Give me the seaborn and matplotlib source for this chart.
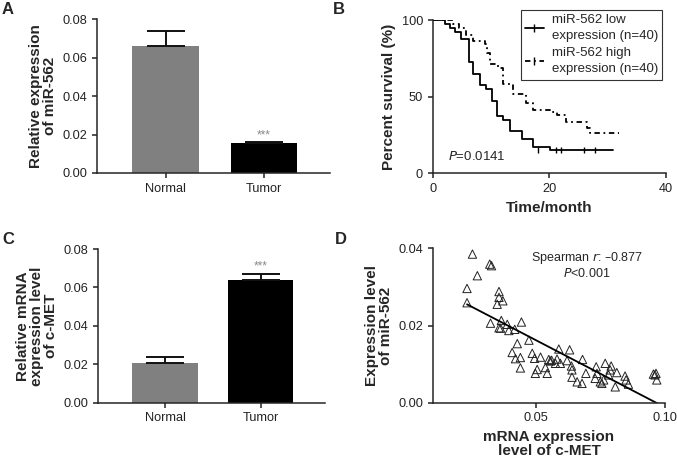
import numpy as np
import pandas as pd
import matplotlib
matplotlib.use('Agg')
import matplotlib.pyplot as plt
from matplotlib.lines import Line2D
import seaborn as sns

# Panel A: miR-562 expression
groups = ['Normal', 'Tumor']
mir_mean = [0.066, 0.0154]
mir_sem = [0.0079, 0.0009]

# Panel C: c-MET mRNA expression
met_mean = [0.0208, 0.0639]
met_sem = [0.0028, 0.0029]

# Panel B: Kaplan-Meier steps
low_time = [0, 2.05, 2.9, 3.8, 4.9, 6.2, 7.0, 8.1, 9.2, 10.1, 11.0, 12.1, 13.3, 15.3, 17.2, 20.1, 30.9]
low_surv = [100, 97.5, 95, 92.5, 87.5, 72.5, 65, 57.5, 55, 47.5, 37.5, 35, 27.5, 22.5, 17.5, 15, 15]
low_censor = [18.1, 21.1, 22.1, 25.9, 27.8]
high_time = [0, 3.5, 4.6, 5.8, 6.9, 8.9, 9.4, 9.9, 11.2, 12.1, 13.8, 16.0, 17.2, 20.1, 21.3, 22.9, 26.4, 27.0, 32.0]
high_surv = [100, 97.5, 95, 90, 86.5, 84.5, 78.5, 71.5, 69, 58.5, 52, 46, 41.5, 40, 38, 33.5, 29.5, 26.5, 26.5]

# Panel D: scatter of c-MET vs miR-562
met_x = [0.0253, 0.0320, 0.0327, 0.0272, 0.0232, 0.0232, 0.0356, 0.0356, 0.0371, 0.0349,
         0.0323, 0.0365, 0.0356, 0.0362, 0.0388, 0.0394, 0.0417, 0.0443, 0.0427, 0.0472,
         0.0407, 0.0420, 0.0439, 0.0439, 0.0485, 0.0494, 0.0504, 0.0497, 0.0517, 0.0536,
         0.0543, 0.0549, 0.0555, 0.0560, 0.0588, 0.0581, 0.0594, 0.0575, 0.0620, 0.0630,
         0.0637, 0.0639, 0.0639, 0.0659, 0.0678, 0.0680, 0.0693, 0.0729, 0.0733, 0.0736,
         0.0749, 0.0755, 0.0762, 0.0768, 0.0781, 0.0787, 0.0791, 0.0807, 0.0813, 0.0845,
         0.0849, 0.0858, 0.0955, 0.0961, 0.0968, 0.0965]
mir_y = [0.0385, 0.0359, 0.0355, 0.0329, 0.0296, 0.0259, 0.0288, 0.0273, 0.0264, 0.0255,
         0.0206, 0.0213, 0.0194, 0.0193, 0.0203, 0.0187, 0.0190, 0.0209, 0.0153, 0.0162,
         0.0130, 0.0114, 0.0117, 0.0090, 0.0128, 0.0115, 0.0086, 0.0076, 0.0118, 0.0091,
         0.0076, 0.0112, 0.0108, 0.0110, 0.0139, 0.0113, 0.0102, 0.0102, 0.0109, 0.0137,
         0.0095, 0.0085, 0.0066, 0.0054, 0.0050, 0.0112, 0.0076, 0.0063, 0.0093, 0.0076,
         0.0054, 0.0050, 0.0059, 0.0102, 0.0072, 0.0085, 0.0095, 0.0041, 0.0078, 0.0069,
         0.0059, 0.0048, 0.0074, 0.0072, 0.0059, 0.0076]

sns.set_style('ticks')
plt.rcParams['font.family'] = ['Liberation Sans', 'DejaVu Sans']
plt.rcParams['axes.linewidth'] = 1.1
plt.rcParams['xtick.major.width'] = 1.1
plt.rcParams['ytick.major.width'] = 1.1
plt.rcParams['xtick.major.size'] = 3.5
plt.rcParams['ytick.major.size'] = 3.5
plt.rcParams['xtick.labelsize'] = 9.2
plt.rcParams['ytick.labelsize'] = 9.2
plt.rcParams['xtick.color'] = '#222222'
plt.rcParams['ytick.color'] = '#222222'

fig = plt.figure(figsize=(6.77, 4.65), dpi=100)
axA = fig.add_axes([0.1433, 0.628, 0.344, 0.331])
axB = fig.add_axes([0.639, 0.627, 0.3446, 0.3297])
axC = fig.add_axes([0.1448, 0.134, 0.335, 0.3305])
axD = fig.add_axes([0.6396, 0.134, 0.3427, 0.332])

bar_colors = ['#808080', '#000000']
lab_font = dict(fontsize=11, fontweight='bold')


def bar_panel(ax, means, sems, star_y, ylabel):
    df = pd.DataFrame({'group': groups, 'value': means})
    sns.barplot(data=df, x='group', y='value', hue='group', palette=bar_colors,
                width=0.68, errorbar=None, legend=False, ax=ax, linewidth=0)
    ax.errorbar([0, 1], means, yerr=[[0, 0], sems], fmt='none', ecolor='#111111',
                elinewidth=1.4, capsize=14, capthick=1.4)
    ax.text(1, star_y, '***', ha='center', va='center', fontsize=8.5, color='#8a8a8a')
    ax.set_ylim(0, 0.08)
    ax.set_yticks([0, 0.02, 0.04, 0.06, 0.08])
    ax.set_yticklabels(['0.00', '0.02', '0.04', '0.06', '0.08'])
    ax.set_xlim(-0.7, 1.67)
    ax.set_xlabel('')
    ax.set_ylabel(ylabel, linespacing=1.0, **lab_font)
    sns.despine(ax=ax)


bar_panel(axA, mir_mean, mir_sem, 0.0197, 'Relative expression\nof miR-562')
bar_panel(axC, met_mean, met_sem, 0.0708, 'Relative mRNA\nexpression level\nof c-MET')

# Panel B
dash_style = (0, (3, 2, 1, 2))
sns.lineplot(x=low_time, y=low_surv, drawstyle='steps-post', color='black', lw=1.3, ax=axB)
sns.lineplot(x=high_time, y=high_surv, drawstyle='steps-post', color='black', lw=1.3,
             linestyle=dash_style, ax=axB)
axB.scatter(low_censor, [low_surv[-1]] * len(low_censor), marker='|', color='black', s=25, lw=1)
axB.set_xlim(0, 40)
axB.set_ylim(0, 100)
axB.set_xticks([0, 20, 40])
axB.set_yticks([0, 50, 100])
axB.set_xlabel('Time/month', **lab_font)
axB.set_ylabel('Percent survival (%)', **lab_font)
axB.text(2.6, 10.8, '$P$=0.0141', fontsize=9.5, va='center')
handles = [Line2D([0], [0], color='black', lw=1.3, marker='|', markersize=6),
           Line2D([0], [0], color='black', lw=1.3, linestyle=dash_style, marker='|', markersize=6)]
leg = axB.legend(handles, ['miR-562 low\nexpression (n=40)', 'miR-562 high\nexpression (n=40)'],
                 loc='upper right', bbox_to_anchor=(0.985, 1.068), fontsize=9.5,
                 fancybox=False, edgecolor='#333333', framealpha=1, borderaxespad=0,
                 handlelength=1.4, labelspacing=0.35, borderpad=0.35, handletextpad=0.6)
for t in leg.get_texts():
    t.set_linespacing(1.45)
leg.get_frame().set_linewidth(0.8)
sns.despine(ax=axB)

# Panel D
sns.scatterplot(x=met_x, y=mir_y, marker='^', s=36, facecolors='none', edgecolor='#222222',
                linewidth=0.7, ax=axD)
slope, icpt = np.polyfit(met_x, mir_y, 1)
fit_x = [min(met_x), 0.10]
sns.lineplot(x=fit_x, y=[slope * v + icpt for v in fit_x], color='black', lw=1.3, ax=axD)
axD.set_xlim(0.01, 0.10)
axD.set_ylim(0, 0.04)
axD.set_xticks([0.05, 0.10])
axD.set_xticklabels(['0.05', '0.10'])
axD.set_yticks([0, 0.02, 0.04])
axD.set_yticklabels(['0.00', '0.02', '0.04'])
axD.set_xlabel('mRNA expression\nlevel of c-MET', linespacing=1.0, **lab_font)
axD.set_ylabel('Expression level\nof miR-562', linespacing=1.0, **lab_font)
axD.text(0.0697, 0.0375, 'Spearman $r$: \u20130.877', ha='center', va='center', fontsize=9)
axD.text(0.0697, 0.0336, '$P$<0.001', ha='center', va='center', fontsize=9)
sns.despine(ax=axD)

for lbl, x, y in [('A', 0.003, 0.995), ('B', 0.492, 0.995), ('C', 0.003, 0.502), ('D', 0.495, 0.502)]:
    fig.text(x, y, lbl, fontsize=12, fontweight='bold', ha='left', va='top')

fig.savefig('out.png', dpi=100)
